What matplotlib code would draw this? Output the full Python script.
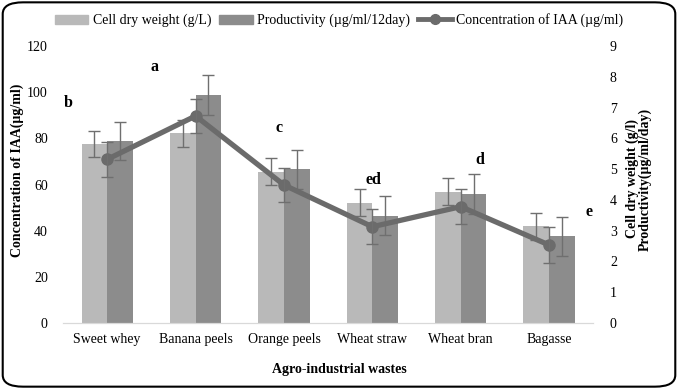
import matplotlib
matplotlib.use("Agg")
import matplotlib.pyplot as plt
import numpy as np
from matplotlib.patches import FancyBboxPatch
from matplotlib.lines import Line2D
from matplotlib.patches import Patch

plt.rcParams['font.family'] = ['Liberation Serif', 'DejaVu Serif']

categories = ["Sweet whey", "Banana peels", "Orange peels", "Wheat straw", "Wheat bran", "Bagasse"]
cell_dry_weight = [5.81, 6.17, 4.92, 3.91, 4.27, 3.15]
cell_dry_weight_err = [0.43, 0.44, 0.44, 0.43, 0.44, 0.44]
productivity = [5.92, 7.41, 5.00, 3.49, 4.19, 2.82]
productivity_err = [0.62, 0.65, 0.63, 0.63, 0.64, 0.63]
iaa = [70.9, 89.7, 59.8, 41.7, 50.4, 33.8]
iaa_err = [7.6, 7.5, 7.5, 7.6, 7.5, 7.6]
letters = ["b", "a", "c", "ed", "d", "e"]
letter_x = [-0.44, 0.54, 1.94, 3.01, 4.22, 5.45]
letter_y = [95.3, 111, 84.4, 62, 70.6, 48.2]

fig = plt.figure(figsize=(6.78, 3.89), dpi=100)
ax = fig.add_axes([0.093, 0.1697, 0.782, 0.712])
ax2 = ax.twinx()

x = np.arange(len(categories))
w = 0.29
light = "#b9b9b9"
dark = "#8c8c8c"
ecol = "#6f6f6f"
fs = 10

ax2.bar(x - w/2, cell_dry_weight, w, color=light, yerr=cell_dry_weight_err,
        error_kw=dict(ecolor=ecol, elinewidth=1, capsize=4, capthick=1), zorder=2)
ax2.bar(x + w/2, productivity, w, color=dark, yerr=productivity_err,
        error_kw=dict(ecolor=ecol, elinewidth=1, capsize=4, capthick=1), zorder=2)
ax2.set_ylim(0, 9)
ax2.set_yticks(range(0, 10))

ax.set_zorder(ax2.get_zorder() + 1)
ax.patch.set_visible(False)
ax.plot(x, iaa, color="#6b6b6b", lw=3.8, marker="o", ms=8, mfc="#6b6b6b", mec="#6b6b6b", zorder=5)
ax.errorbar(x, iaa, yerr=iaa_err, fmt="none", ecolor=ecol, elinewidth=1, capsize=4, capthick=1, zorder=6)
ax.set_ylim(0, 120)
ax.set_yticks(range(0, 121, 20))
ax.set_xlim(-0.5, len(categories) - 0.5)
ax.set_xticks(x)
ax.set_xticklabels(categories, fontsize=fs)

for a in (ax, ax2):
    for s in ("top", "left", "right"):
        a.spines[s].set_visible(False)
    a.spines["bottom"].set_color("#d9d9d9")
    a.tick_params(axis="both", length=0, labelsize=fs)
ax.tick_params(axis="y", pad=11)
ax2.tick_params(axis="y", pad=12)
ax.tick_params(axis="x", pad=7)

for lx, ly, t in zip(letter_x, letter_y, letters):
    ax.text(lx, ly, t, fontsize=11.5, fontweight="bold", ha="center", va="center")

fig.text(0.5, 0.05, "Agro-industrial wastes", fontsize=fs, fontweight="bold", ha="center", va="center")
fig.text(0.025, 0.563, "Concentration of IAA(\u00b5g/ml)", fontsize=fs, fontweight="bold",
         rotation=90, ha="center", va="center")
fig.text(0.942, 0.54, "Cell dry weight (g/l)\nProductivity(\u00b5g/ml/day)", fontsize=fs, fontweight="bold",
         rotation=90, ha="center", va="center", linespacing=1.0)

handles = [Patch(color=light, label="Cell dry weight (g/L)"),
           Patch(color=dark, label="Productivity (\u00b5g/ml/12day)"),
           Line2D([0], [0], color="#6b6b6b", lw=3.5, marker="o", ms=7, label="Concentration of IAA (\u00b5g/ml)")]
fig.legend(handles=handles, loc="center", bbox_to_anchor=(0.5, 0.948), ncol=3, frameon=False,
           fontsize=fs, handlelength=2.4, handleheight=0.6, columnspacing=0.6, handletextpad=0.3)

border = FancyBboxPatch((0.004, 0.006), 0.992, 0.988, boxstyle="round,pad=0,rounding_size=0.03",
                        transform=fig.transFigure, fill=False, ec="black", lw=1.5)
fig.patches.append(border)

fig.savefig("out.png", dpi=100)
